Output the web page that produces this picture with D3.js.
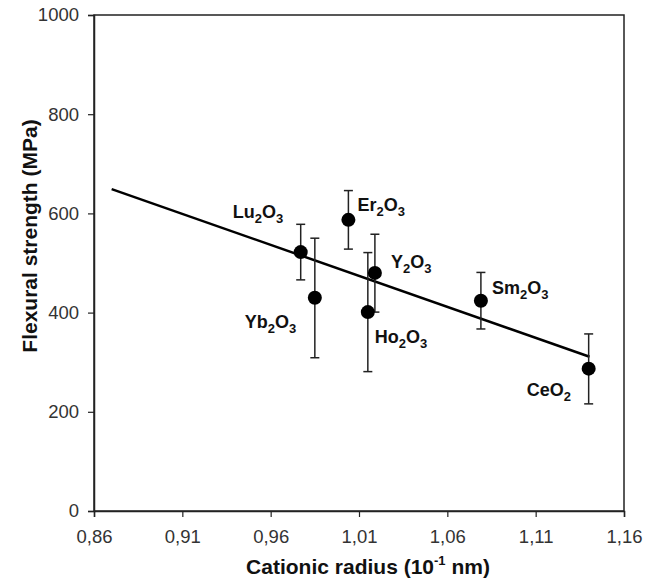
<!DOCTYPE html>
<html>
<head>
<meta charset="utf-8">
<script src="https://cdn.jsdelivr.net/npm/d3@7"></script>
<style>
body{margin:0;background:#fff;}
svg text{font-family:"Liberation Sans",Arial,sans-serif;}
</style>
</head>
<body>
<div id="chart"></div>
<script>
// データ
const oxides = ["Lu2O3","Yb2O3","Er2O3","Ho2O3","Y2O3","Sm2O3","CeO2"];
const radius = [0.977, 0.985, 1.004, 1.015, 1.019, 1.079, 1.140];
const strength = [522, 430, 587, 401, 480, 424, 287];
const errUp = [56, 120, 59, 120, 78, 57, 70];
const errDown = [56, 121, 59, 120, 79, 57, 71];
// 回帰直線の端点
const fitX = [0.870, 1.1405];
const fitY = [649, 311];
const xTicks = [0.86, 0.91, 0.96, 1.01, 1.06, 1.11, 1.16];
const yTicks = [0, 200, 400, 600, 800, 1000];

// ラベルの位置（点からのずれ、px）
const labelOffset = [[-68,-34],[-70,30],[9,-9],[7,31],[16,-5],[11,-7],[-62,27]];

const width = 658, height = 581;
const margin = {top:15, right:34, bottom:70, left:94};

const svg = d3.select("#chart").append("svg")
	.attr("width", width)
	.attr("height", height);

const x = d3.scaleLinear().domain([0.86,1.16]).range([margin.left, width-margin.right]);
const y = d3.scaleLinear().domain([0,1000]).range([height-margin.bottom, margin.top]);

// 枠
svg.append("rect")
	.attr("x", x(0.86)).attr("y", y(1000))
	.attr("width", x(1.16)-x(0.86)).attr("height", y(0)-y(1000))
	.attr("fill","none").attr("stroke","#222").attr("stroke-width",1.5);

// 軸
const fmt = d => d3.format(".2f")(d).replace(".", ",");
const xAxis = svg.append("g")
	.attr("transform","translate(0,"+y(0)+")")
	.call(d3.axisBottom(x).tickValues(xTicks).tickFormat(fmt).tickSize(6).tickPadding(13));
const yAxis = svg.append("g")
	.attr("transform","translate("+x(0.86)+",0)")
	.call(d3.axisLeft(y).tickValues(yTicks).tickFormat(d3.format("d")).tickSize(6).tickPadding(9));
[xAxis,yAxis].forEach(function(g){
	g.attr("font-family",null).attr("font-size",null);
	g.select(".domain").attr("stroke","#222").attr("stroke-width",1.5);
	g.selectAll(".tick line").attr("stroke","#222").attr("stroke-width",1.2);
	g.selectAll(".tick text").attr("fill","#333").style("font-size","18.5px");
});

// 軸タイトル
const xt = svg.append("text")
	.attr("x",368).attr("y",574)
	.attr("text-anchor","middle")
	.style("font-size","21px").style("font-weight","bold").attr("fill","#111");
xt.append("tspan").text("Cationic radius (10");
xt.append("tspan").text("-1").attr("dy",-9).style("font-size","13px");
xt.append("tspan").text(" nm)").attr("dy",9);

svg.append("text")
	.attr("transform","translate(37,236) rotate(-90)")
	.attr("text-anchor","middle")
	.style("font-size","21px").style("font-weight","bold").attr("fill","#111")
	.text("Flexural strength (MPa)");

// 回帰直線
svg.append("line")
	.attr("x1",x(fitX[0])).attr("y1",y(fitY[0]))
	.attr("x2",x(fitX[1])).attr("y2",y(fitY[1]))
	.attr("stroke","#000").attr("stroke-width",2.5);

// エラーバー
const pts = oxides.map((d,i)=>({name:d, x:radius[i], y:strength[i], hi:strength[i]+errUp[i], lo:strength[i]-errDown[i], off:labelOffset[i]}));
const eb = svg.append("g").attr("stroke","#222").attr("stroke-width",1.5);
pts.forEach(function(p){
	eb.append("line").attr("x1",x(p.x)).attr("x2",x(p.x)).attr("y1",y(p.hi)).attr("y2",y(p.lo));
	eb.append("line").attr("x1",x(p.x)-4.5).attr("x2",x(p.x)+4.5).attr("y1",y(p.hi)).attr("y2",y(p.hi));
	eb.append("line").attr("x1",x(p.x)-4.5).attr("x2",x(p.x)+4.5).attr("y1",y(p.lo)).attr("y2",y(p.lo));
});

// 点
svg.selectAll(".pt").data(pts).enter().append("circle")
	.attr("class","pt")
	.attr("cx",d=>x(d.x)).attr("cy",d=>y(d.y)).attr("r",7)
	.attr("fill","#000");

// ラベル（下付き数字）
pts.forEach(function(p){
	const t = svg.append("text")
		.attr("x",x(p.x)+p.off[0]).attr("y",y(p.y)+p.off[1])
		.style("font-size","18px").style("font-weight","bold").attr("fill","#111");
	const parts = p.name.match(/[A-Za-z]+|\d/g);
	let sub = false;
	parts.forEach(function(s){
		if(/\d/.test(s)){
			t.append("tspan").text(s).attr("dy",sub?0:5).style("font-size","13px");
			sub = true;
		}else{
			t.append("tspan").text(s).attr("dy",sub?-5:0);
			sub = false;
		}
	});
});
</script>
</body>
</html>
